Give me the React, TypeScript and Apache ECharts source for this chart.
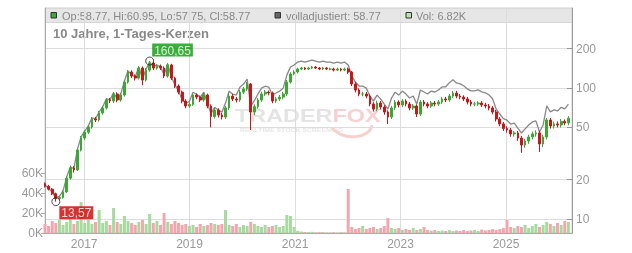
import React, { useEffect, useRef } from 'react';
import * as echarts from 'echarts';

const startDate = [2016, 3, 5];
const stepDays = 25;
const firstOpen = 18.6;

const closes = [
  17.8, 16.9, 15.6, 14.3, 14.6, 16.1, 20.5, 24.5, 23.7, 33.6,
  41.5, 46.0, 50.4, 58.0, 57.0, 64.5, 70.4, 81.0, 79.6, 90.0,
  81.0, 88.4, 111, 132.5, 123.5, 119, 142, 115, 137, 155,
  142, 147, 142, 123.5, 150, 119, 103.6, 93, 79.6, 72.9,
  75, 88.4, 85.2, 81, 88.4, 72.9, 60.6, 67.9, 62.2, 60,
  70.4, 86.8, 82.5, 81, 93, 98.3, 107.3, 65.6, 72, 81,
  90, 93, 91.6, 79.6, 82.5, 85.2, 90, 111, 128, 132.5,
  139.6, 142, 139.6, 142, 144.5, 142, 139.6, 142, 139.6, 139.6,
  137, 139.6, 137, 139.6, 132.5, 107.3, 96.5, 90, 90, 86.8,
  75.5, 69, 76.8, 71.6, 65.6, 60, 70.4, 78.1, 74.2, 79.6,
  75.5, 70.4, 72.9, 63.3, 78.1, 75.5, 72.9, 76.8, 75.5, 78.1,
  82.5, 81, 86.8, 91.6, 86.8, 85.2, 82.5, 78.1, 75.5, 75.5,
  76.8, 74.2, 72.9, 70.4, 65.6, 58, 53.2, 49.1, 47.8, 44.6,
  45.4, 41.5, 36.7, 39.4, 42.3, 44.6, 45.4, 37.4, 42.3, 57,
  51.3, 53.2, 52.2, 55.6, 54.1, 58.77,
];

const highs = [
  19.0, 18.2, 17.2, 15.9, 15.1, 16.6, 21.2, 25.6, 25.3, 34.8,
  43.0, 47.6, 52.1, 60.0, 60.2, 66.8, 73.0, 83.8, 84.0, 93.0,
  92.8, 91.5, 115, 137, 136.5, 127, 147, 146, 142, 160.65,
  158, 152, 151, 146, 155, 153, 122, 106.5, 95.5, 82,
  77.5, 91.5, 91, 87.5, 91.5, 90.5, 75, 70.5, 70, 64.5,
  73, 90, 90, 85.5, 96.5, 102, 111, 109, 75, 84,
  93.5, 96.5, 95.5, 94, 85.5, 88.5, 93.5, 115, 132, 136.5,
  143, 145, 144.5, 145, 147.5, 147, 144.5, 145, 144.5, 143,
  142.5, 143, 142.5, 143, 143, 135, 110.5, 99.5, 93.5, 93,
  89.5, 78, 80, 79.5, 74, 67.5, 73, 81, 80.5, 82.5,
  82, 78, 75.5, 75, 81, 81, 78, 79.5, 79.5, 81,
  85.5, 85.5, 90, 95, 95, 90, 88, 85.5, 81, 78.5,
  79.5, 79.5, 77, 75.5, 73, 68, 60, 55, 51, 49.5,
  47, 47, 43, 41, 44, 46.5, 47.5, 47, 44, 59,
  59, 55.5, 55.5, 58, 57.5, 60.95,
];

const lows = [
  17.4, 16.5, 15.2, 13.57, 13.9, 14.3, 15.8, 20.0, 22.6, 23.2,
  32.8, 40.2, 44.6, 49.0, 55.0, 55.4, 62.6, 68.5, 76.8, 77.0,
  78.0, 78.6, 86, 108, 119, 114, 116, 105, 112, 133,
  137, 138, 137, 119, 120, 115, 100, 89.5, 76.5, 70,
  70.5, 73, 82, 78, 78.5, 70, 50, 58.5, 59.5, 57.5,
  58, 68, 79.5, 77.5, 78.5, 90, 95, 47.8, 62, 69.5,
  78.5, 87, 88, 76.5, 77, 79.5, 82, 87, 108, 125,
  129.5, 137, 137, 137.5, 139.5, 139.5, 137, 137, 137, 136.5,
  134, 134.5, 134, 134.5, 128, 103.5, 92.5, 86.5, 86.5, 83.5,
  72.5, 66, 66.5, 68.5, 62.5, 53, 58, 68, 71, 71.5,
  72.5, 67.5, 68, 60, 61, 72.5, 70, 70.5, 72.5, 73,
  75.5, 78, 78.5, 84, 83.5, 82, 79.5, 75, 72.5, 72.5,
  73, 71.5, 70, 67.5, 63, 55.5, 51, 47, 45.5, 42.5,
  42.5, 39.5, 32, 35, 37.5, 40.5, 42.5, 32.5, 35.5, 40.5,
  49, 49, 50, 50, 52, 52,
];

const adjusted = [
  18.2, 17.2, 15.9, 14.6, 14.9, 16.4, 20.9, 25.0, 24.2, 34.3,
  42.3, 46.9, 51.4, 59.2, 58.1, 65.8, 71.8, 82.6, 81.2, 91.8,
  82.6, 90.2, 113.2, 135.2, 126, 121.4, 144.8, 117.3, 139.7, 158.1,
  144.8, 149.9, 144.8, 126, 153, 121.4, 105.7, 94.9, 81.2, 76.5,
  78.8, 92.8, 89.5, 85, 92.8, 76.5, 63.6, 71.3, 67.8, 65.4,
  76.7, 94.6, 89.9, 88.3, 101.4, 107.1, 117, 72.8, 80, 89.9,
  99.9, 103.2, 101.7, 88.4, 91.6, 94.6, 99.9, 125.4, 144.6, 149.7,
  157.7, 160.5, 157.7, 160.5, 163.3, 160.5, 157.7, 160.5, 157.7, 157.7,
  154.8, 157.7, 154.8, 157.7, 149.7, 123.4, 111, 103.5, 103.5, 99.8,
  86.8, 79.4, 88.3, 82.3, 75.4, 69, 83.8, 92.9, 88.3, 94.7,
  89.8, 83.8, 86.8, 75.3, 96.5, 93.2, 90, 94.8, 93.2, 96.5,
  101.9, 102.1, 109.4, 115.4, 109.4, 107.4, 104, 98.4, 95.1, 95.1,
  96.8, 93.5, 91.9, 88.7, 82.7, 69, 63.3, 58.4, 56.9, 53.1,
  54, 49.4, 45.3, 48.7, 52.2, 55.1, 56.1, 46.2, 52.2, 73,
  65.7, 68.1, 66.8, 71.2, 69.2, 75.2,
];

const volumesK = [
  9, 7, 12, 10, 13, 8, 11, 14, 9, 12,
  31, 10, 13, 9, 11, 23, 10, 12, 8, 25,
  11, 9, 17, 12, 10, 8, 11, 13, 9, 19,
  10, 12, 8, 20, 11, 9, 12, 10, 8, 9,
  7, 8, 6, 9, 7, 8, 10, 9, 8, 9,
  23, 8, 7, 9, 6, 8, 7, 11, 9, 7,
  6, 8, 6, 7, 8, 6, 7, 18, 17, 6,
  2, 1.5, 1, 0.8, 1.2, 0.6, 0.8, 1, 0.5, 0.6,
  0.8, 0.5, 0.7, 0.7, 44, 6, 4, 5, 7, 4,
  5, 6, 4, 5, 7, 15, 5, 4, 5, 3,
  4, 3, 5, 3, 4, 6, 3, 2.5, 3, 2,
  2.5, 2, 3, 2, 2.5, 2, 3, 2, 2.5, 3,
  2, 3.5, 2.5, 3, 4, 3, 4, 5, 13, 6,
  5, 7, 6, 8, 5, 7, 9, 6, 8, 11,
  9, 7, 10, 8, 12, 11,
];

const lowMark = { index: 3, value: 13.57, text: '13,57' };
const highMark = { index: 29, value: 160.65, text: '160,65' };

const priceTicks = [10, 20, 50, 100, 200];
const volumeTicks = [0, 20000, 40000, 60000];
const yearTicks = [2017, 2019, 2021, 2023, 2025];

const headerOHLC = 'Op:58.77, Hi:60.95, Lo:57.75, Cl:58.77';
const headerAdj = 'volladjustiert: 58.77';
const headerVol = 'Vol: 6.82K';
const titleText = '10 Jahre, 1-Tages-Kerzen';

const FONT = '"Liberation Sans", Arial, Helvetica, sans-serif';
const UP = '#3ba834';
const DOWN = '#c8161d';
const VOL_UP = '#a8daa0';
const VOL_DOWN = '#f2a6ae';

export default function App() {
  const ref = useRef<HTMLDivElement>(null);
  useEffect(() => {
    if (!ref.current) return;
    const chart = echarts.init(ref.current, undefined, { renderer: 'svg' });
    const start = new Date(startDate[0], startDate[1], startDate[2]).getTime();
    const day = 86400000;
    const dates = closes.map((_, i) => start + i * stepDays * day);
    const xMin = start;
    const xMax = start + 3650 * day;
    const yearStamps = yearTicks.map((y) => new Date(y, 0, 1).getTime());

    const candles = closes.map((c, i) => {
      const o = i === 0 ? firstOpen : closes[i - 1];
      return [dates[i], o, c, lows[i], highs[i]];
    });
    const vols = volumesK.map((v, i) => {
      const o = i === 0 ? firstOpen : closes[i - 1];
      const up = closes[i] >= o;
      return { value: [dates[i], v * 1000], itemStyle: { color: up ? VOL_UP : VOL_DOWN } };
    });
    const adj = adjusted.map((v, i) => [dates[i], v]);

    const gridColor = '#dcdcdc';
    const labelColor = '#999';

    chart.setOption({
      animation: false,
      textStyle: { fontFamily: FONT },
      grid: {
        left: 45, right: 60, top: 8, bottom: 20,
        show: true, borderColor: '#cfcfcf', borderWidth: 1, backgroundColor: 'transparent',
      },
      xAxis: {
        type: 'value',
        min: xMin, max: xMax,
        axisLine: { show: true, lineStyle: { color: '#aaa' } },
        axisTick: { show: false, customValues: yearStamps },
        axisLabel: {
          color: labelColor, fontSize: 12, margin: 5,
          customValues: yearStamps,
          formatter: (v: number) => String(new Date(v).getFullYear()),
        },
        splitLine: { show: true, lineStyle: { color: gridColor, width: 1 } },
      },
      yAxis: [
        {
          type: 'log', logBase: 10, position: 'right',
          min: 7.818, max: 408,
          axisLine: { show: true, lineStyle: { color: '#999' } },
          axisTick: { show: true, inside: true, length: 5, lineStyle: { color: '#999' }, customValues: priceTicks },
          axisLabel: { color: labelColor, fontSize: 12, margin: 4, customValues: priceTicks, formatter: (v: number) => String(Math.round(v)) },
          splitLine: { show: true, lineStyle: { color: gridColor, width: 1 } },
        },
        {
          type: 'value', position: 'left',
          min: 0, max: 225000,
          axisLine: { show: true, lineStyle: { color: '#aaa' } },
          axisTick: { show: true, length: 4, lineStyle: { color: '#aaa' }, customValues: volumeTicks },
          axisLabel: { color: labelColor, fontSize: 12, margin: 2, customValues: volumeTicks, formatter: (v: number) => Math.round(v / 1000) + 'K' },
          splitLine: { show: false },
        },
      ],
      graphic: [
        { type: 'rect', shape: { x: 45, y: 8, width: 527, height: 14.5 }, style: { fill: 'rgba(200,200,200,0.45)' }, silent: true },
        { type: 'line', shape: { x1: 45, y1: 22.5, x2: 572, y2: 22.5 }, style: { stroke: '#d6d6d6', lineWidth: 1 }, silent: true },
        { type: 'rect', shape: { x: 51, y: 12.5, width: 5.5, height: 5.5 }, style: { fill: '#3aaa3a', stroke: '#333', lineWidth: 1 } },
        { type: 'text', x: 62, y: 15.5, style: { text: headerOHLC, fill: '#888', font: `11px ${FONT}`, verticalAlign: 'middle' } },
        { type: 'rect', shape: { x: 275, y: 12.5, width: 5.5, height: 5.5 }, style: { fill: '#666', stroke: '#333', lineWidth: 1 } },
        { type: 'text', x: 286, y: 15.5, style: { text: headerAdj, fill: '#888', font: `11px ${FONT}`, verticalAlign: 'middle' } },
        { type: 'rect', shape: { x: 406, y: 12.5, width: 5.5, height: 5.5 }, style: { fill: '#b8e2b0', stroke: '#333', lineWidth: 1 } },
        { type: 'text', x: 416, y: 15.5, style: { text: headerVol, fill: '#888', font: `11px ${FONT}`, verticalAlign: 'middle' } },
        { type: 'text', x: 53, y: 33.5, style: { text: titleText, fill: '#888', font: `bold 13px ${FONT}`, verticalAlign: 'middle' } },
        {
          type: 'text', x: 235, y: 116, scaleX: 1.3,
          style: {
            text: '{a|TRADER}{b|FOX}', verticalAlign: 'middle',
            rich: {
              a: { fill: '#e4e4e4', font: `bold 18px ${FONT}` },
              b: { fill: '#f7d0d0', font: `bold 18px ${FONT}` },
            },
          },
          silent: true,
        },
        { type: 'text', x: 240, y: 130, scaleX: 1.25, style: { text: 'REALTIME STOCK SCREENING', fill: '#e6e6e6', font: `bold 5.5px ${FONT}`, verticalAlign: 'middle' }, silent: true },
        { type: 'bezierCurve', shape: { x1: 332, y1: 128, x2: 372, y2: 125, cpx1: 345, cpy1: 142, cpx2: 370, cpy2: 138 }, style: { stroke: '#f7d0d0', lineWidth: 3, fill: 'none' }, silent: true },
      ],
      series: [
        {
          type: 'bar', name: 'Vol', xAxisIndex: 0, yAxisIndex: 1,
          data: vols, barWidth: 3, z: 1,
        },
        {
          type: 'line', name: 'volladjustiert', xAxisIndex: 0, yAxisIndex: 0,
          data: adj, showSymbol: false, symbol: 'none', z: 2,
          lineStyle: { color: '#888', width: 1.3 },
        },
        {
          type: 'candlestick', name: 'Kurs', xAxisIndex: 0, yAxisIndex: 0,
          data: candles, barWidth: 2.2, z: 3,
          itemStyle: { color: UP, color0: DOWN, borderColor: UP, borderColor0: DOWN, borderWidth: 1 },
        },
        {
          type: 'scatter', xAxisIndex: 0, yAxisIndex: 0, z: 5,
          symbol: 'circle', symbolSize: 8,
          itemStyle: { color: 'rgba(0,0,0,0)', borderColor: '#222', borderWidth: 1 },
          data: [
            {
              value: [dates[lowMark.index], lowMark.value],
              label: {
                show: true, formatter: lowMark.text, position: [8, 9], align: 'left', verticalAlign: 'top',
                color: '#fff', fontSize: 12, backgroundColor: '#cc0000', padding: [1, 2, 0, 2],
              },
            },
            {
              value: [dates[highMark.index], highMark.value],
              label: {
                show: true, formatter: highMark.text, position: [7, -13], align: 'left', verticalAlign: 'top',
                color: '#fff', fontSize: 12, backgroundColor: '#0a9a0a', padding: [1, 2, 0, 2],
              },
            },
          ],
        },
      ],
    });
    return () => chart.dispose();
  }, []);
  return <div ref={ref} style={{ position: 'fixed', left: 0, top: 0, width: 632, height: 253 }} />;
}
